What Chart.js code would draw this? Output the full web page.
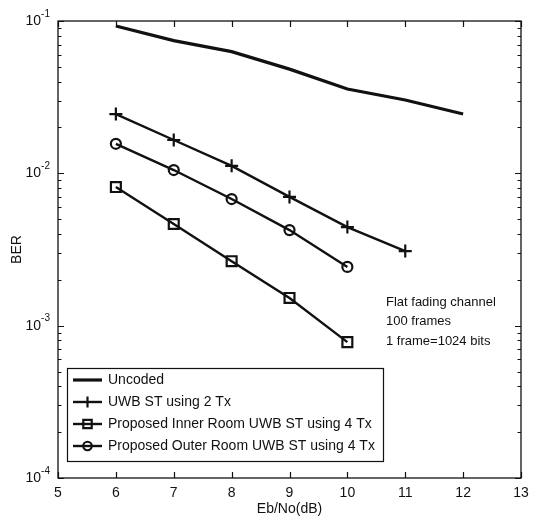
<!DOCTYPE html>
<html>
<head>
<meta charset="utf-8">
<script src="https://cdn.jsdelivr.net/npm/chart.js@4/dist/chart.umd.min.js"></script>
<style>
  html, body { margin: 0; padding: 0; background: #fff; }
  #wrap { width: 536px; height: 523px; }
</style>
</head>
<body>
<div id="wrap"><canvas id="c" width="536" height="523"></canvas></div>
<script>
// Eb/No (dB) sample points
const ebno = [6, 7, 8, 9, 10, 11, 12];

// BER curves
const uncoded    = [0.0927, 0.0743, 0.0629, 0.0483, 0.0358, 0.0303, 0.0245];
const uwb2Tx     = [0.0245, 0.01655, 0.0112, 0.0070, 0.00444, 0.00309];
const innerRoom  = [0.00813, 0.00465, 0.00265, 0.00152, 0.00078];
const outerRoom  = [0.01563, 0.01051, 0.00678, 0.00424, 0.00243];

// Axis ticks
const xTickValues = [5, 6, 7, 8, 9, 10, 11, 12, 13];
const yDecadeExponents = [-4, -3, -2, -1];

// Legend and note text
const seriesNames = [
  'Uncoded',
  'UWB ST using 2 Tx',
  'Proposed Inner Room UWB ST using 4 Tx',
  'Proposed Outer Room UWB ST using 4 Tx'
];
const noteLines = ['Flat fading channel', '100 frames', '1 frame=1024 bits'];

const toPoints = (ys) => ys.map((y, i) => ({ x: ebno[i], y }));
const INK = '#111';
const FONT = '"Liberation Sans", Arial, sans-serif';

const datasets = [
  { label: seriesNames[0], data: toPoints(uncoded), borderWidth: 3.2, pointRadius: 0, pointStyle: false },
  { label: seriesNames[1], data: toPoints(uwb2Tx), borderWidth: 2.4, pointStyle: 'cross', pointRadius: 6.5, pointBorderWidth: 2.2 },
  { label: seriesNames[2], data: toPoints(innerRoom), borderWidth: 2.4, pointStyle: 'rect', pointRadius: 7, pointBorderWidth: 2.2 },
  { label: seriesNames[3], data: toPoints(outerRoom), borderWidth: 2.4, pointStyle: 'circle', pointRadius: 5, pointBorderWidth: 2.2 }
].map(d => Object.assign({
  borderColor: INK,
  pointBorderColor: INK,
  pointBackgroundColor: 'rgba(255,255,255,0)',
  fill: false,
  tension: 0
}, d));

// Box, inward ticks, log tick labels, titles, legend and note text
const framePlugin = {
  id: 'frame',
  afterDraw(chart) {
    const { ctx, chartArea: a, scales } = chart;
    const xs = scales.x, ys = scales.y;
    ctx.save();
    ctx.strokeStyle = INK;
    ctx.fillStyle = INK;
    ctx.lineWidth = 1.3;
    ctx.strokeRect(a.left, a.top, a.right - a.left, a.bottom - a.top);

    // x ticks on bottom and top
    ctx.lineWidth = 1.2;
    xTickValues.forEach(v => {
      const px = Math.round(xs.getPixelForValue(v)) + 0.5;
      ctx.beginPath();
      ctx.moveTo(px, a.bottom); ctx.lineTo(px, a.bottom - 6);
      ctx.moveTo(px, a.top); ctx.lineTo(px, a.top + 6);
      ctx.stroke();
    });

    // y ticks (decades and minor 2..9) on left and right
    yDecadeExponents.forEach(e => {
      for (let m = 1; m <= 9; m++) {
        if (e === -1 && m > 1) break;
        const v = m * Math.pow(10, e);
        const py = Math.round(ys.getPixelForValue(v)) + 0.5;
        const len = m === 1 ? 6 : 3.5;
        ctx.beginPath();
        ctx.moveTo(a.left, py); ctx.lineTo(a.left + len, py);
        ctx.moveTo(a.right, py); ctx.lineTo(a.right - len, py);
        ctx.stroke();
      }
    });

    // y tick labels 10^e
    yDecadeExponents.forEach(e => {
      const py = ys.getPixelForValue(Math.pow(10, e));
      ctx.textBaseline = 'middle';
      const expText = String(e);
      ctx.font = '10px ' + FONT;
      const ew = ctx.measureText(expText).width;
      const expX = a.left - 8 - ew;
      ctx.textAlign = 'left';
      ctx.fillText(expText, expX, py - 7);
      ctx.font = '14px ' + FONT;
      ctx.textAlign = 'right';
      ctx.fillText('10', expX, py);
    });

    // axis titles
    ctx.font = '14px ' + FONT;
    ctx.textAlign = 'center';
    ctx.textBaseline = 'middle';
    ctx.fillText('Eb/No(dB)', (a.left + a.right) / 2, 509);
    ctx.save();
    ctx.translate(17, (a.top + a.bottom) / 2);
    ctx.rotate(-Math.PI / 2);
    ctx.fillText('BER', 0, 0);
    ctx.restore();

    // note text
    ctx.font = '13px ' + FONT;
    ctx.textAlign = 'left';
    noteLines.forEach((t, i) => ctx.fillText(t, 386, 302 + i * 19.5));

    // legend
    const lx = 67, ly = 368, lw = 316, lh = 93;
    ctx.fillStyle = '#fff';
    ctx.fillRect(lx, ly, lw, lh);
    ctx.strokeStyle = INK;
    ctx.lineWidth = 1.2;
    ctx.strokeRect(lx + 0.5, ly + 0.5, lw, lh);
    chart.data.datasets.forEach((ds, i) => {
      const ry = 380 + i * 22;
      ctx.strokeStyle = INK;
      ctx.lineWidth = ds.borderWidth;
      ctx.beginPath();
      ctx.moveTo(73, ry); ctx.lineTo(102, ry);
      ctx.stroke();
      if (ds.pointStyle) {
        // hollow marker over the line sample
        ctx.fillStyle = 'rgba(255,255,255,0)';
        ctx.lineWidth = ds.pointBorderWidth;
        Chart.helpers.drawPoint(ctx, {
          pointStyle: ds.pointStyle,
          radius: ds.pointRadius * 0.85,
          rotation: 0,
          borderWidth: ds.pointBorderWidth
        }, 87.5, ry);
      }
      ctx.fillStyle = INK;
      ctx.font = '14px ' + FONT;
      ctx.textAlign = 'left';
      ctx.textBaseline = 'middle';
      ctx.fillText(ds.label, 108, ry);
    });
    ctx.restore();
  }
};

new Chart(document.getElementById('c'), {
  type: 'line',
  data: { datasets },
  options: {
    responsive: false,
    animation: false,
    devicePixelRatio: 1,
    layout: { padding: { top: 21, right: 15, left: 0, bottom: 0 } },
    plugins: { legend: { display: false }, tooltip: { enabled: false } },
    scales: {
      x: {
        type: 'linear', min: 5, max: 13,
        afterBuildTicks: (s) => { s.ticks = xTickValues.map(v => ({ value: v })); },
        grid: { display: false, drawTicks: false },
        border: { display: false },
        ticks: { color: INK, font: { size: 14, family: FONT }, padding: 7, maxRotation: 0 },
        afterFit: (s) => { s.height = 45; }
      },
      y: {
        type: 'logarithmic', min: 1e-4, max: 1e-1,
        grid: { display: false, drawTicks: false },
        border: { display: false },
        ticks: { display: false },
        afterFit: (s) => { s.width = 58; }
      }
    }
  },
  plugins: [framePlugin]
});
</script>
</body>
</html>
